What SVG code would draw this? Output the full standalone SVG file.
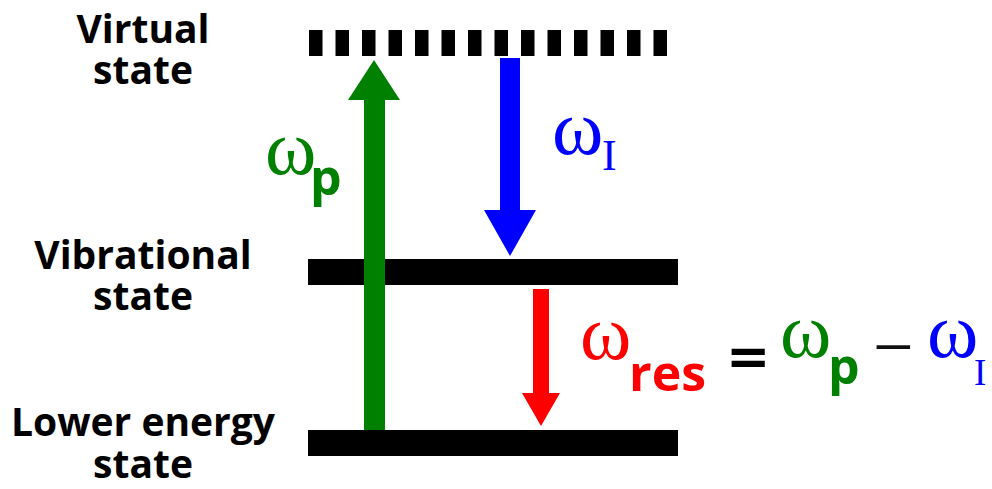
<svg xmlns="http://www.w3.org/2000/svg" width="992" height="489" viewBox="0 0 992 489">
<style>
.lbl{font-family:"Open Sans","Noto Sans",sans-serif;font-weight:bold;font-size:39px;fill:#000;text-anchor:middle}
.w{font-family:"Liberation Serif","Times New Roman",serif;font-size:78px}
.sub{font-family:"Open Sans","Noto Sans",sans-serif;font-weight:bold;font-size:50px}
.I{font-family:"Liberation Serif","Times New Roman",serif}
.g{fill:#008000}.b{fill:#0000ff}.r{fill:#ff0000}
</style>
<rect width="992" height="489" fill="#fff"/>
<g id="virtual">
<line x1="309" y1="43" x2="668" y2="43" stroke="#000" stroke-width="26" stroke-dasharray="13.5 13"/>
<text class="lbl"><tspan x="143" y="43">Virtual</tspan><tspan x="143" y="84">state</tspan></text>
</g>
<g id="vibrational">
<rect x="308" y="259" width="370" height="26" fill="#000"/>
<text class="lbl"><tspan x="143" y="269">Vibrational</tspan><tspan x="143" y="310">state</tspan></text>
</g>
<g id="lower">
<rect x="308" y="430" width="370" height="26" fill="#000"/>
<text class="lbl"><tspan x="143" y="436">Lower energy</tspan><tspan x="143" y="478">state</tspan></text>
</g>
<g id="connectors">
<polygon class="g" points="364,430 364,100 348,100 374,60 400,100 385,100 385,430"/>
<polygon class="b" points="500,58 520,58 520,210 536,210 510,256 484,210 500,210"/>
<polygon class="r" points="533,289 549,289 549,393 560,393 541,426 522,393 533,393"/>
</g>
<g id="label-p">
<text class="g"><tspan class="w" x="265" y="174">ω</tspan><tspan class="sub" x="310" y="195">p</tspan></text>
</g>
<g id="label-I">
<text class="b"><tspan class="w" x="552" y="154">ω</tspan><tspan class="I" x="602" y="170" font-size="44">I</tspan></text>
</g>
<g id="equation">
<text class="r"><tspan class="w" x="580" y="359">ω</tspan><tspan class="sub" x="629" y="391">res</tspan></text>
<text x="726" y="375" font-family="DejaVu Sans" font-weight="bold" font-size="53" fill="#000">=</text>
<text class="g"><tspan class="w" x="780" y="357">ω</tspan><tspan class="sub" x="828" y="384" font-size="40">p</tspan></text>
<text class="I" x="873" y="371" font-size="72" fill="#111">−</text>
<text class="b"><tspan class="w" x="927" y="357">ω</tspan><tspan class="I" x="974" y="385" font-size="37">I</tspan></text>
</g>
</svg>
